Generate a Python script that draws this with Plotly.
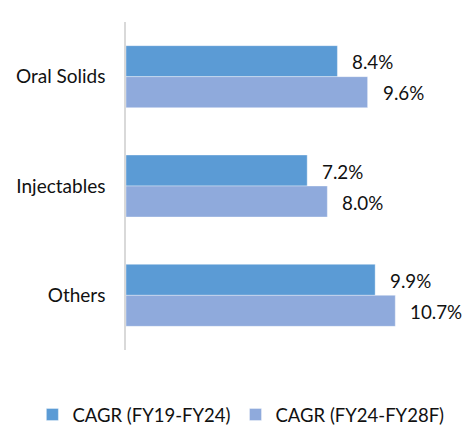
import plotly.graph_objects as go

categories = ["Oral Solids", "Injectables", "Others"]
cagr_fy19_fy24 = [8.4, 7.2, 9.9]
cagr_fy24_fy28f = [9.6, 8.0, 10.7]
series_names = ["CAGR (FY19-FY24)", "CAGR (FY24-FY28F)"]
colors = ["#5B9BD5", "#8FAADC"]

FONT = "Lato, Carlito, Calibri, sans-serif"
TXT = "#111111"

fig = go.Figure()
for name, vals, col in zip(series_names, [cagr_fy19_fy24, cagr_fy24_fy28f], colors):
    fig.add_trace(go.Bar(
        y=categories, x=vals, name=name, orientation="h",
        marker=dict(color=col, line=dict(color="rgba(255,255,255,0.6)", width=0.6)),
        hoverinfo="skip",
    ))

annotations = []
for shift, vals in zip([15.5, -15.5], [cagr_fy19_fy24, cagr_fy24_fy28f]):
    for c, v in zip(categories, vals):
        annotations.append(dict(
            x=v, y=c, xref="x", yref="y", text=f"{v:.1f}%",
            showarrow=False, xanchor="left", yanchor="middle",
            xshift=13, yshift=shift - 0.5,
            font=dict(family=FONT, size=18.8, color=TXT),
        ))

fig.update_layout(
    width=467, height=427,
    margin=dict(l=126, r=39, t=22, b=77, autoexpand=False),
    paper_bgcolor="white", plot_bgcolor="white",
    barmode="group", bargap=0.433, bargroupgap=0,
    font=dict(family=FONT, size=19, color=TXT),
    annotations=annotations,
    showlegend=True,
    legend=dict(
        orientation="h", xref="paper", yref="paper",
        x=-0.31, xanchor="left", y=-0.198, yanchor="middle",
        font=dict(family=FONT, size=18.5, color=TXT),
        itemwidth=30, traceorder="normal",
    ),
)
fig.update_xaxes(range=[0, 12], visible=False, showgrid=False, zeroline=False)
fig.update_yaxes(
    autorange="reversed", showline=True, linecolor="#D9D9D9", linewidth=1.5,
    ticks="", showgrid=False, ticklabelstandoff=15, automargin=False,
    tickfont=dict(family=FONT, size=19, color=TXT),
)

fig.write_html(
    "out.html",
    config={"displayModeBar": False},
    post_script="document.body.style.margin='0';document.body.style.padding='0';",
)
